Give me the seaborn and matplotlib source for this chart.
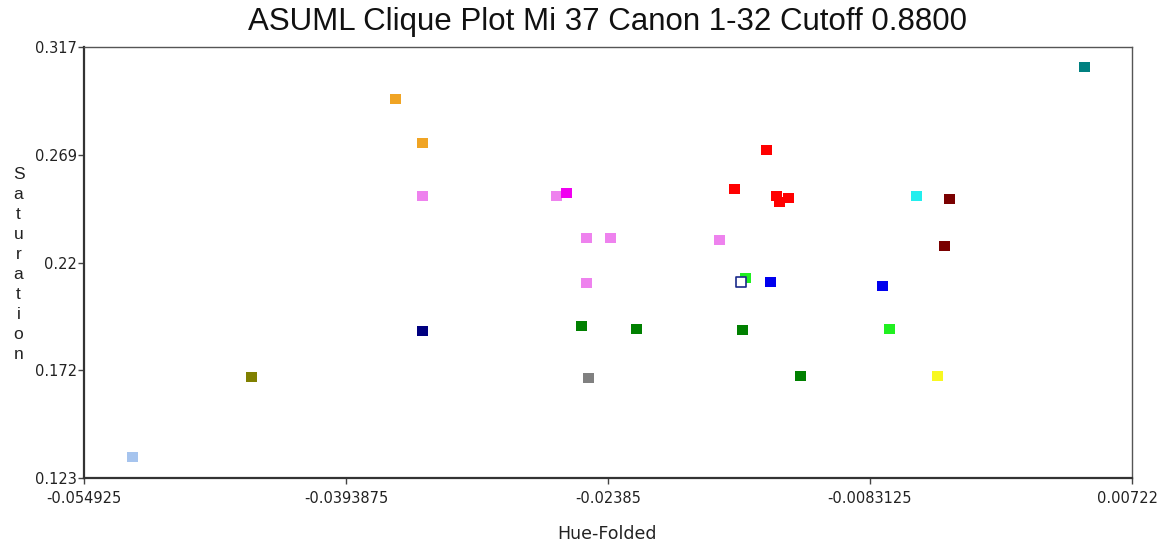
import matplotlib
matplotlib.use("Agg")
import matplotlib.pyplot as plt
import seaborn as sns
import pandas as pd

# Hue-Folded (x), Saturation (y), marker colour for every clique member
hue_folded = [-0.052019, -0.044962, -0.036422, -0.034821, -0.034821, -0.034821,
              -0.026875, -0.026282, -0.025095, -0.023672, -0.025095, -0.025392,
              -0.022130, -0.024977, -0.014421, -0.016319, -0.013828, -0.013116,
              -0.013650, -0.017208, -0.015666, -0.014184, -0.015844, -0.012405,
              -0.007542, -0.007127, -0.005525, -0.003569, -0.003865, -0.004280,
              0.004437]
saturation = [0.13245, 0.16846, 0.29359, 0.27379, 0.24993, 0.18917,
              0.24993, 0.25128, 0.23103, 0.23103, 0.21077, 0.19142,
              0.19007, 0.16801, 0.27064, 0.25308, 0.24993, 0.24903,
              0.24723, 0.23013, 0.21302, 0.21122, 0.18962, 0.16891,
              0.20942, 0.19007, 0.24993, 0.24858, 0.22743, 0.16891,
              0.30800]
colors = ["#a6c4ee", "#808000", "#f0a424", "#f0a424", "#ee82ee", "#000080",
          "#ee82ee", "#f000f0", "#ee82ee", "#ee82ee", "#ee82ee", "#008000",
          "#008000", "#808080", "#ff0000", "#ff0000", "#ff0000", "#ff0000",
          "#ff0000", "#ee82ee", "#20f020", "#0000ee", "#008000", "#008000",
          "#0000ee", "#20f020", "#22eeee", "#7a0000", "#7a0000", "#f8f820",
          "#008080"]

# the hollow (current) point
hollow_x = [-0.015963]
hollow_y = [0.21122]

x_ticks = [-0.054925, -0.0393875, -0.02385, -0.0083125, 0.007225]
x_labels = ["-0.054925", "-0.0393875", "-0.02385", "-0.0083125", "0.007225"]
y_ticks = [0.123, 0.1715, 0.22, 0.2685, 0.317]
y_labels = ["0.123", "0.172", "0.22", "0.269", "0.317"]

df = pd.DataFrame({"hue": hue_folded, "sat": saturation, "color": colors})

sns.set_style("white")
plt.rcParams["font.family"] = ["DejaVu Sans"]

fig = plt.figure(figsize=(11.58, 5.48), dpi=100)
ax = fig.add_axes([0.0725, 0.1277, 0.905, 0.7865])

sns.scatterplot(data=df, x="hue", y="sat", hue="color",
                palette={c: c for c in colors}, marker="s", s=62,
                linewidth=0, legend=False, ax=ax)
ax.scatter(hollow_x, hollow_y, marker="s", s=50, facecolor="white",
           edgecolor="#1a2a8a", linewidth=1.2, zorder=3)

ax.set_xlim(x_ticks[0], x_ticks[-1])
ax.set_ylim(y_ticks[0], y_ticks[-1])
ax.set_xticks(x_ticks)
ax.set_xticklabels(x_labels)
ax.set_yticks(y_ticks)
ax.set_yticklabels(y_labels)
ax.tick_params(axis="both", direction="out", length=4, width=1,
               color="#444444", labelsize=10.5, labelcolor="#222222",
               left=True, bottom=True)
ax.tick_params(axis="x", pad=5)
ax.tick_params(axis="y", pad=1)

for side in ["top", "right"]:
    ax.spines[side].set_color("#555555")
    ax.spines[side].set_linewidth(1.0)
for side in ["left", "bottom"]:
    ax.spines[side].set_color("#333333")
    ax.spines[side].set_linewidth(1.6)

ax.set_xlabel("")
ax.set_ylabel("")
fig.text(0.5245, 0.026, "Hue-Folded", ha="center", va="center",
         fontsize=12.5, color="#222222")
fig.text(0.016, 0.517, "\n".join("Saturation"), ha="center", va="center",
         fontsize=12.5, color="#222222", linespacing=1.42,
         family=["Liberation Sans", "DejaVu Sans"])
fig.text(0.5245, 0.96, "ASUML Clique Plot Mi 37 Canon 1-32 Cutoff 0.8800",
         ha="center", va="center", fontsize=22.5, color="#111111",
         family=["Liberation Sans", "DejaVu Sans"])

fig.savefig("out.png", dpi=100)
